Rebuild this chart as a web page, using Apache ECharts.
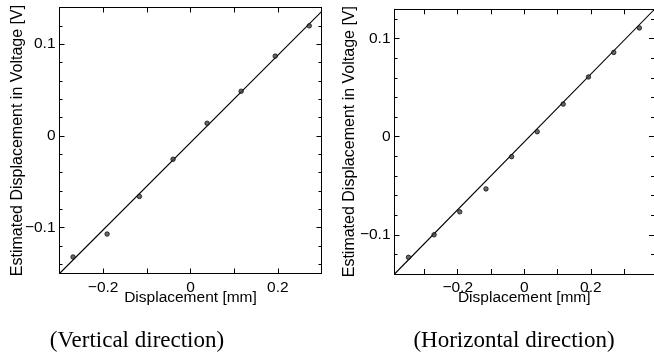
<!DOCTYPE html>
<html>
<head>
<meta charset="utf-8">
<script src="https://cdn.jsdelivr.net/npm/echarts@6/dist/echarts.min.js"></script>
<style>
  html, body { margin: 0; padding: 0; background: #fff; }
  #chart { width: 654px; height: 360px; }
</style>
</head>
<body>
<div id="chart"></div>
<script>
// ---- data ----
var verticalX = [-0.269, -0.191, -0.117, -0.040, 0.038, 0.116, 0.194, 0.272];
var verticalY = [-0.132, -0.107, -0.066, -0.0254, 0.0138, 0.0487, 0.087, 0.120];
var verticalFitX = [-0.30, 0.30];
var verticalFitY = [-0.150, 0.1356];

var horizontalX = [-0.348, -0.271, -0.194, -0.115, -0.038, 0.039, 0.117, 0.193, 0.269, 0.346];
var horizontalY = [-0.123, -0.100, -0.0766, -0.0532, -0.0203, 0.0051, 0.0333, 0.061, 0.086, 0.111];
var horizontalFitX = [-0.39, 0.39];
var horizontalFitY = [-0.140, 0.1295];

var xTickValues = [-0.3, -0.2, -0.1, 0, 0.1, 0.2, 0.3];
var xLabelValues = [-0.2, 0, 0.2];
var yMajorValues = [-0.1, 0, 0.1];
var verticalYMinor = [-0.14, -0.12, -0.08, -0.06, -0.04, -0.02, 0.02, 0.04, 0.06, 0.08, 0.12];
var horizontalYMinor = [-0.12, -0.08, -0.06, -0.04, -0.02, 0.02, 0.04, 0.06, 0.08, 0.12];

var xAxisTitle = 'Displacement [mm]';
var yAxisTitle = 'Estimated Displacement in Voltage [V]';
var captions = ['(Vertical direction)', '(Horizontal direction)'];

var verticalRange = { xmin: -0.3, xmax: 0.3, ymin: -0.15, ymax: 0.14 };
var horizontalRange = { xmin: -0.39, xmax: 0.39, ymin: -0.14, ymax: 0.13 };

// ---- chart ----
var SANS = '"Liberation Sans", Arial, Helvetica, sans-serif';
var INK = '#000';

function fmt(v) {
  if (Math.abs(v) < 1e-9) return '0';
  return (v < 0 ? '\u2212' : '') + String(Math.round(Math.abs(v) * 1000) / 1000);
}
function pairs(xs, ys) { return xs.map(function (x, i) { return [x, ys[i]]; }); }

function xAx(grid, r, pos, showLabel) {
  return {
    type: 'value', gridIndex: grid, position: pos, min: r.xmin, max: r.xmax,
    name: showLabel ? xAxisTitle : '', nameLocation: 'middle', nameGap: 16, nameMoveOverlap: false,
    nameTextStyle: { fontFamily: SANS, fontSize: 15.5, color: INK },
    axisLine: { show: true, onZero: false, lineStyle: { color: INK, width: 1 } },
    axisTick: { show: true, inside: true, length: 5, customValues: xTickValues, lineStyle: { color: INK } },
    axisLabel: { show: showLabel, customValues: xLabelValues, formatter: fmt, margin: 6,
      fontFamily: SANS, fontSize: 15.5, color: INK },
    splitLine: { show: false }
  };
}
function yAx(grid, r, pos, major, minorVals, showLabel, gap) {
  return {
    type: 'value', gridIndex: grid, position: pos, offset: 0, min: r.ymin, max: r.ymax,
    name: showLabel ? yAxisTitle : '', nameLocation: 'middle', nameGap: gap || 40, nameRotate: 90,
    nameMoveOverlap: false,
    nameTextStyle: { fontFamily: SANS, fontSize: 16, color: INK },
    axisLine: { show: major, onZero: false, lineStyle: { color: INK, width: 1 } },
    axisTick: { show: true, inside: true, length: major ? 5 : 3,
      customValues: major ? yMajorValues : minorVals, lineStyle: { color: INK } },
    axisLabel: { show: showLabel, customValues: yMajorValues, formatter: fmt, margin: 4,
      fontFamily: SANS, fontSize: 15.5, color: INK },
    splitLine: { show: false }
  };
}

var chart = echarts.init(document.getElementById('chart'), null, { renderer: 'canvas' });
var option = {
  backgroundColor: '#fff',
  animation: false,
  grid: [
    { left: 59.5, top: 7.5, width: 262, height: 266 },
    { left: 394.5, top: 9.3, width: 262, height: 264.7 }
  ],
  xAxis: [
    xAx(0, verticalRange, 'bottom', true),
    xAx(0, verticalRange, 'top', false),
    xAx(1, horizontalRange, 'bottom', true),
    xAx(1, horizontalRange, 'top', false)
  ],
  yAxis: [
    yAx(0, verticalRange, 'left', true, null, true, 34),
    yAx(0, verticalRange, 'left', false, verticalYMinor, false),
    yAx(0, verticalRange, 'right', true, null, false),
    yAx(0, verticalRange, 'right', false, verticalYMinor, false),
    yAx(1, horizontalRange, 'left', true, null, true, 37),
    yAx(1, horizontalRange, 'left', false, horizontalYMinor, false),
    yAx(1, horizontalRange, 'right', true, null, false),
    yAx(1, horizontalRange, 'right', false, horizontalYMinor, false)
  ],
  series: [
    { type: 'line', xAxisIndex: 0, yAxisIndex: 0, data: pairs(verticalFitX, verticalFitY),
      symbol: 'none', lineStyle: { color: INK, width: 1.1 }, z: 2 },
    { type: 'scatter', xAxisIndex: 0, yAxisIndex: 0, data: pairs(verticalX, verticalY),
      symbol: 'circle', symbolSize: 4.5,
      itemStyle: { color: '#444', borderColor: '#000', borderWidth: 0.9 }, z: 3 },
    { type: 'line', xAxisIndex: 2, yAxisIndex: 4, data: pairs(horizontalFitX, horizontalFitY),
      symbol: 'none', lineStyle: { color: INK, width: 1.1 }, z: 2 },
    { type: 'scatter', xAxisIndex: 2, yAxisIndex: 4, data: pairs(horizontalX, horizontalY),
      symbol: 'circle', symbolSize: 4.5,
      itemStyle: { color: '#444', borderColor: '#000', borderWidth: 0.9 }, z: 3 }
  ],
  graphic: [
    { type: 'text', x: 137, y: 341, style: { text: captions[0], fill: INK,
      font: '23px "Liberation Serif", "Times New Roman", serif', align: 'center', verticalAlign: 'middle' } },
    { type: 'text', x: 514, y: 341, style: { text: captions[1], fill: INK,
      font: '23px "Liberation Serif", "Times New Roman", serif', align: 'center', verticalAlign: 'middle' } }
  ]
};
chart.setOption(option);
</script>
</body>
</html>
